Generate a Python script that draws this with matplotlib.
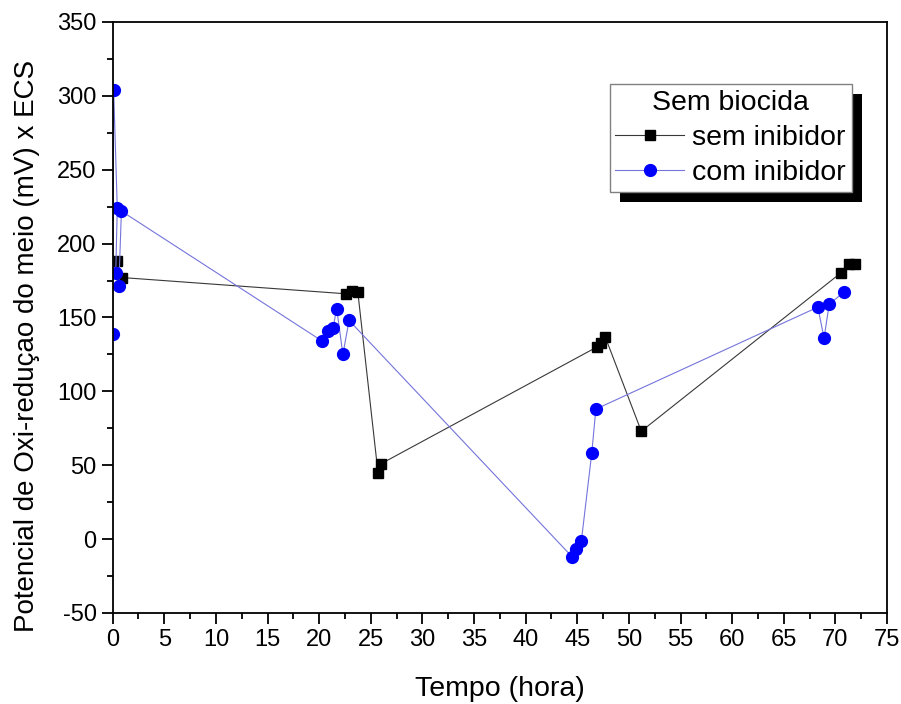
import numpy as np
import matplotlib
matplotlib.use("Agg")
import matplotlib.pyplot as plt
from matplotlib.patches import Rectangle
from matplotlib.ticker import MultipleLocator

plt.rcParams['font.family'] = ['Liberation Sans', 'DejaVu Sans']
plt.rcParams['axes.unicode_minus'] = False

# sem inibidor (black squares)
t_sem = [0.4, 0.95, 22.65, 23.2, 23.75, 25.7, 26.0, 46.9, 47.3, 47.7, 51.2, 70.5, 71.3, 71.9]
e_sem = [188, 177, 166, 168, 167, 45, 51, 130, 133, 137, 73, 180, 186, 186]

# com inibidor (blue circles)
t_com = [0.0, 0.1, 0.45, 0.3, 0.6, 0.85, 20.3, 20.9, 21.35, 21.7, 22.3, 22.9,
         44.5, 44.9, 45.4, 46.4, 46.8, 68.3, 68.9, 69.4, 70.8]
e_com = [139, 304, 224, 180, 171, 222, 134, 141, 143, 156, 125, 148,
         -12, -7, -1, 58, 88, 157, 136, 159, 167]

fig = plt.figure(figsize=(9.01, 7.04), dpi=100)
ax = fig.add_axes([0.125, 0.1293, 0.8595, 0.8395])

ax.plot(t_sem, e_sem, color='#383838', lw=0.8, marker='s', ms=7.5,
        mfc='black', mec='black', label='sem inibidor')
ax.plot(t_com, e_com, color='#7474dc', lw=0.8, marker='o', ms=8.5,
        mfc='#0000ff', mec='#0000ff', label='com inibidor')

ax.set_xlim(0, 75)
ax.set_ylim(-50, 350)
ax.xaxis.set_major_locator(MultipleLocator(5))
ax.xaxis.set_minor_locator(MultipleLocator(2.5))
ax.yaxis.set_major_locator(MultipleLocator(50))
ax.yaxis.set_minor_locator(MultipleLocator(25))
ax.tick_params(which='both', direction='out', top=False, right=False, labelsize=17, width=1.3)
ax.tick_params(which='major', length=8)
ax.tick_params(which='minor', length=4.5)
for s in ax.spines.values():
    s.set_linewidth(1.3)

ax.set_xlabel('Tempo (hora)', fontsize=20.5, labelpad=18)
ax.set_ylabel('Potencial de Oxi-reduçao do meio (mV) x ECS', fontsize=20)
ax.yaxis.set_label_coords(-0.094, 0.451)

leg = ax.legend(title='Sem biocida', loc='upper left', bbox_to_anchor=(0.642, 0.895),
                fontsize=20.5, title_fontsize=20.5, fancybox=False, framealpha=1,
                edgecolor='#808080', numpoints=1, handlelength=2.4,
                borderpad=0.2, labelspacing=0.32, handletextpad=0.3, borderaxespad=0)
leg.get_frame().set_linewidth(1.0)

fig.canvas.draw()
bb = leg.get_window_extent()
shadow = Rectangle((bb.x0 + 10, bb.y0 - 10), bb.width, bb.height, transform=None,
                   facecolor='black', edgecolor='none')
shadow.set_clip_on(False)
ax.add_artist(shadow)
shadow.set_zorder(5.5)
leg.set_zorder(6)

fig.savefig('out.png', dpi=100)
